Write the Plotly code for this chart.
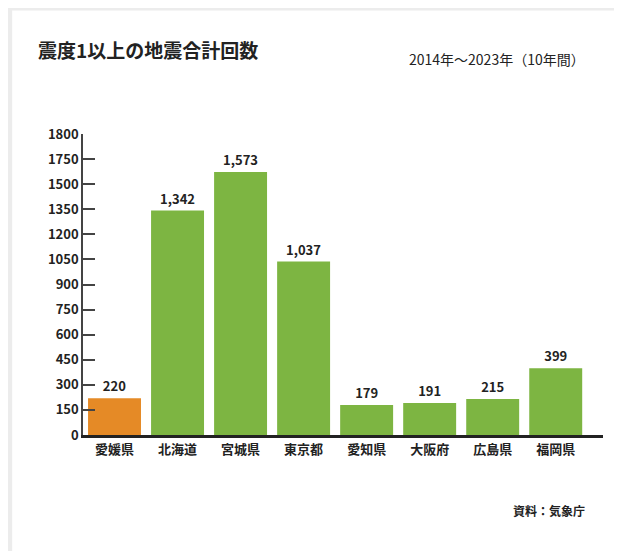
import plotly.graph_objects as go

categories = ["愛媛県", "北海道", "宮城県", "東京都", "愛知県", "大阪府", "広島県", "福岡県"]
values = [220, 1342, 1573, 1037, 179, 191, 215, 399]
value_labels = ["220", "1,342", "1,573", "1,037", "179", "191", "215", "399"]
tick_vals = [0, 150, 300, 450, 600, 750, 900, 1050, 1200, 1350, 1500, 1650, 1800]
tick_text = ["0", "150", "300", "450", "600", "750", "900", "1050", "1200", "1350", "1500", "1750", "1800"]

colors = ["#E58A26"] + ["#7DB542"] * 7
font = "Noto Sans CJK JP"

fig = go.Figure(go.Bar(
    x=list(range(len(categories))), y=values, width=0.84,
    marker=dict(color=colors, line=dict(width=0)),
    text=value_labels, textposition="outside", cliponaxis=False,
    textfont=dict(size=13, color="#222", family=font, weight="bold"),
))
fig.update_layout(
    width=622, height=551, plot_bgcolor="white", paper_bgcolor="white",
    margin=dict(l=75, r=27, t=126, b=124), showlegend=False,
    font=dict(family=font, color="#222"),
    xaxis=dict(range=[-0.5, 7.75], tickvals=list(range(len(categories))), ticktext=categories,
               tickfont=dict(size=13, family=font, weight="bold"), showgrid=False, zeroline=False,
               showline=True, linecolor="#222", linewidth=3, ticks="", automargin=False),
    yaxis=dict(range=[0, 1800], tickvals=tick_vals, ticktext=tick_text, showgrid=False, zeroline=False,
               tickfont=dict(size=13, family=font, weight="bold"), automargin=False,
               showline=True, linecolor="#444", linewidth=1.5,
               ticks="inside", ticklen=12, tickcolor="#444", tickwidth=1.5),
    shapes=[dict(type="rect", xref="paper", yref="paper", x0=-0.142, x1=1.05, y0=-0.41, y1=1.42,
                 line=dict(color="#ececec", width=6), layer="below")],
    annotations=[
        dict(text="<b>震度1以上の地震合計回数</b>", xref="paper", yref="paper", x=-0.09, y=1.28,
             xanchor="left", yanchor="middle", showarrow=False, font=dict(size=19, family=font)),
        dict(text="2014年～2023年（10年間）", xref="paper", yref="paper", x=0.97, y=1.25,
             xanchor="right", yanchor="middle", showarrow=False, font=dict(size=14, family=font)),
        dict(text="<b>資料：気象庁</b>", xref="paper", yref="paper", x=0.97, y=-0.25,
             xanchor="right", yanchor="middle", showarrow=False, font=dict(size=12, family=font)),
    ],
)
fig.write_html("out.html")
